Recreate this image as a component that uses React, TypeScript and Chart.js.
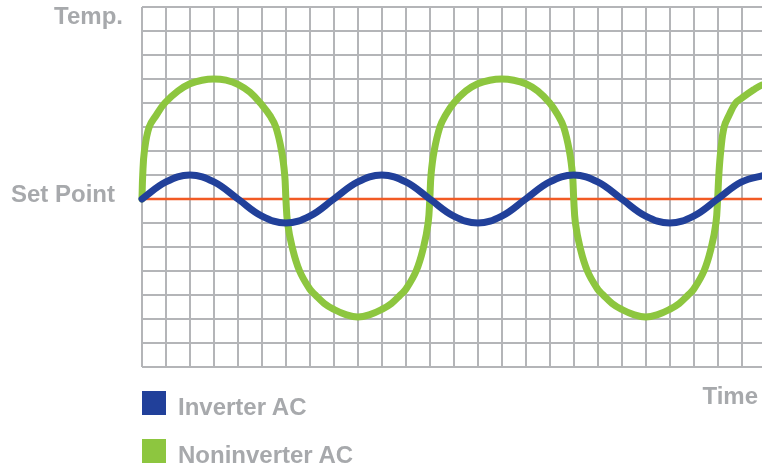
import React, { useEffect, useRef } from "react";
import { Chart, registerables } from "chart.js";

Chart.register(...registerables);

// Time axis in grid cells, temperature in grid cells relative to the set point
const inverterX = [0, 1, 2, 3, 4, 5, 6, 7, 8, 9, 10, 11, 12, 13, 14, 15, 16, 17, 18, 19, 20, 21, 22, 23, 24, 25, 26];
const inverterY = [0, 0.71, 1, 0.71, 0, -0.71, -1, -0.71, 0, 0.71, 1, 0.71, 0, -0.71, -1, -0.71, 0, 0.71, 1, 0.71, 0, -0.71, -1, -0.71, 0, 0.71, 1];

const noninverterX = [
  0, 0.03, 0.1, 0.3, 0.6, 0.95, 1.5, 2, 2.5, 3, 3.5, 4, 4.5, 5, 5.35, 5.58, 5.82, 5.95,
  6, 6.07, 6.26, 6.57, 7, 7.23, 7.6, 8, 8.5, 9, 9.5, 10, 10.4, 10.77, 11, 11.43, 11.74, 11.93,
  12, 12.05, 12.18, 12.42, 12.66, 13, 13.5, 14, 14.5, 15, 15.5, 16, 16.5, 17, 17.34, 17.58, 17.82, 17.95,
  18, 18.07, 18.26, 18.57, 19, 19.23, 19.6, 20, 20.5, 21, 21.5, 22, 22.4, 22.77, 23, 23.43, 23.74, 23.93,
  24, 24.05, 24.13, 24.27, 24.48, 24.75, 25, 25.5, 25.85, 26.5,
];
const noninverterY = [
  0, 1, 2, 3, 3.5, 4, 4.5, 4.8, 4.95, 5, 4.95, 4.78, 4.45, 3.92, 3.45, 3, 2, 1,
  0, -1, -2, -3, -3.76, -4, -4.35, -4.6, -4.82, -4.92, -4.82, -4.6, -4.35, -4, -3.76, -3, -2, -1,
  0, 1, 2, 3, 3.5, 4, 4.5, 4.8, 4.95, 5, 4.95, 4.8, 4.5, 4, 3.5, 3, 2, 1,
  0, -1, -2, -3, -3.76, -4, -4.35, -4.6, -4.82, -4.92, -4.82, -4.6, -4.35, -4, -3.76, -3, -2, -1,
  0, 1, 2, 3, 3.5, 4, 4.2, 4.55, 4.75, 4.95,
];

const setPointX = [0, 26.5];
const setPointY = [0, 0];

const seriesLabels = ["Inverter AC", "Noninverter AC"];
const axisLabels = { temp: "Temp.", setPoint: "Set Point", time: "Time" };

const BLUE = "#21409a";
const GREEN = "#8dc63f";
const ORANGE = "#f15a24";
const GRID = "#b4b5b8";
const TEXT = "#a7a9ac";

const zip = (xs: number[], ys: number[]) => xs.map((x, i) => ({ x, y: ys[i] }));

export default function App() {
  const ref = useRef<HTMLCanvasElement | null>(null);

  useEffect(() => {
    document.body.style.margin = "0";
    const canvas = ref.current;
    if (!canvas) return;
    const chart = new Chart(canvas, {
      type: "line",
      data: {
        datasets: [
          {
            label: seriesLabels[0],
            data: zip(inverterX, inverterY),
            borderColor: BLUE,
            borderWidth: 7,
            pointRadius: 0,
            tension: 0.4,
            borderCapStyle: "round",
            clip: false,
          },
          {
            label: seriesLabels[1],
            data: zip(noninverterX, noninverterY),
            borderColor: GREEN,
            borderWidth: 7,
            pointRadius: 0,
            tension: 0.4,
            borderCapStyle: "round",
            clip: false,
          },
          {
            label: "Set Point",
            data: zip(setPointX, setPointY),
            borderColor: ORANGE,
            borderWidth: 2.5,
            pointRadius: 0,
            clip: false,
          },
        ],
      },
      options: {
        animation: false,
        responsive: false,
        devicePixelRatio: 1,
        layout: { padding: { left: 142, top: 7, right: 0, bottom: 99 } },
        plugins: { legend: { display: false }, tooltip: { enabled: false } },
        scales: {
          x: {
            type: "linear",
            min: 0,
            max: 25.85,
            ticks: { display: false, stepSize: 1, includeBounds: false },
            grid: { color: GRID, lineWidth: 2, drawTicks: false },
            border: { display: false },
          },
          y: {
            type: "linear",
            min: -7,
            max: 8,
            ticks: { display: false, stepSize: 1 },
            grid: { color: GRID, lineWidth: 2, drawTicks: false },
            border: { display: false },
          },
        },
      },
    });
    return () => chart.destroy();
  }, []);

  const font: React.CSSProperties = {
    position: "absolute",
    fontFamily: "'Liberation Sans', Arial, sans-serif",
    fontWeight: 700,
    fontSize: 24,
    lineHeight: "24px",
    color: TEXT,
    whiteSpace: "nowrap",
  };

  return (
    <div style={{ position: "relative", width: 762, height: 466, overflow: "hidden", background: "#fff" }}>
      <canvas ref={ref} width={762} height={466} style={{ position: "absolute", left: 0, top: 0 }} />
      <div style={{ ...font, left: 0, width: 123, top: 3.7, textAlign: "right" }}>{axisLabels.temp}</div>
      <div style={{ ...font, left: 0, width: 115, top: 181.7, textAlign: "right" }}>{axisLabels.setPoint}</div>
      <div style={{ ...font, left: 600, width: 158, top: 383.7, textAlign: "right" }}>{axisLabels.time}</div>
      <div style={{ position: "absolute", left: 142, top: 391, width: 24, height: 24, background: BLUE }} />
      <div style={{ ...font, left: 178, top: 394.7 }}>{seriesLabels[0]}</div>
      <div style={{ position: "absolute", left: 142, top: 439, width: 24, height: 24, background: GREEN }} />
      <div style={{ ...font, left: 178, top: 442.7 }}>{seriesLabels[1]}</div>
    </div>
  );
}
